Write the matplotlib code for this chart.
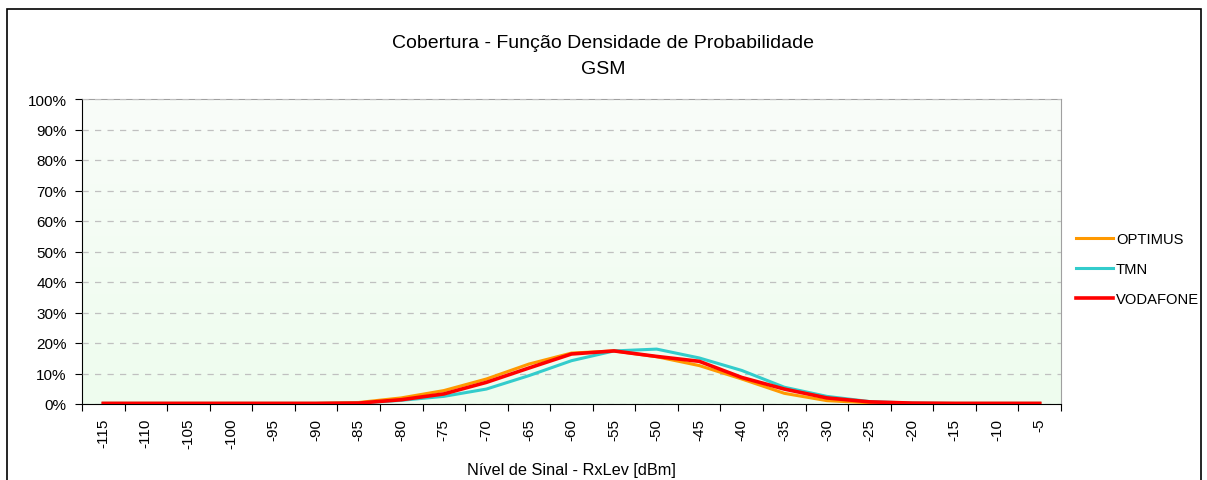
import numpy as np
import matplotlib.pyplot as plt
from matplotlib.patches import Rectangle
from matplotlib.colors import LinearSegmentedColormap

plt.rcParams['font.family'] = ['Liberation Sans', 'DejaVu Sans']

# niveis de sinal (dBm)
niveis = list(range(-115, 0, 5))

# densidade de probabilidade (%) por operador
optimus = [0.2, 0.2, 0.2, 0.2, 0.2, 0.2, 0.5, 2.0, 4.4, 8.2, 13.1, 16.7, 17.4,
           15.5, 12.6, 8.2, 3.5, 1.1, 0.4, 0.2, 0.2, 0.2, 0.2]
tmn = [0.2, 0.2, 0.2, 0.2, 0.2, 0.2, 0.3, 1.2, 2.5, 4.9, 9.3, 14.2, 17.4,
       18.0, 15.1, 11.0, 5.5, 2.5, 0.8, 0.3, 0.2, 0.2, 0.2]
vodafone = [0.2, 0.2, 0.2, 0.2, 0.2, 0.2, 0.3, 1.4, 3.3, 7.1, 11.8, 16.4, 17.4,
            15.6, 14.0, 8.7, 4.9, 2.0, 0.7, 0.3, 0.2, 0.2, 0.2]

fig = plt.figure(figsize=(12.07, 4.81), dpi=100)
ax = fig.add_axes([82/1207, 1-405/481, (1061-82)/1207, (405-100)/481])

x = np.arange(len(niveis))

# fundo em degrade
cmap = LinearSegmentedColormap.from_list('bg', ['#eefcee', '#f9fdf9'])
ax.imshow(np.linspace(0, 1, 100).reshape(-1, 1), cmap=cmap, aspect='auto',
          extent=[-0.5, len(niveis)-0.5, 0, 100], origin='lower', zorder=0)

ax.plot(x, optimus, color='#FF9900', lw=2.2, label='OPTIMUS', zorder=3)
ax.plot(x, tmn, color='#33CCCC', lw=2.2, label='TMN', zorder=3)
ax.plot(x, vodafone, color='#FF0000', lw=2.6, label='VODAFONE', zorder=4)

ax.set_xlim(-0.5, len(niveis)-0.5)
ax.set_ylim(0, 100)

ax.set_yticks(range(0, 101, 10))
ax.set_yticklabels([f'{v}%' for v in range(0, 101, 10)], fontsize=11)
ax.yaxis.grid(True, color='#c0c0c0', ls=(0, (5, 5)), lw=0.9)
ax.set_axisbelow(False)
for gl in ax.get_ygridlines():
    gl.set_zorder(1)

ax.set_xticks(x)
ax.set_xticklabels([str(v) for v in niveis], rotation=90, fontsize=11)
ax.set_xticks(np.arange(-0.5, len(niveis)), minor=True)
ax.tick_params(axis='x', which='major', length=0, pad=10)
ax.tick_params(axis='x', which='minor', length=5, width=0.8)
ax.tick_params(axis='y', length=5, width=0.8, pad=6)

ax.spines['left'].set_color('black')
ax.spines['bottom'].set_color('black')
ax.spines['top'].set_color('#a0a0a0')
ax.spines['right'].set_color('#a0a0a0')

fig.text(0.5, 1-43/481, 'Cobertura - Função Densidade de Probabilidade',
         ha='center', va='center', fontsize=14)
fig.text(0.5, 1-70/481, 'GSM', ha='center', va='center', fontsize=14)
fig.text(571/1207, 1-471/481, 'Nível de Sinal - RxLev [dBm]', ha='center',
         va='center', fontsize=11.7)

fig.legend(loc='center left', bbox_to_anchor=(1063/1207, 1-270/481),
           frameon=False, fontsize=10.6, handlelength=2.5, handletextpad=0.2,
           labelspacing=1.1)

fig.patches.append(Rectangle((7/1207, -0.01), (1201-7)/1207, 1-10/481+0.01,
                             transform=fig.transFigure, fill=False,
                             edgecolor='black', lw=1.2))

fig.savefig('out.png', dpi=100)
